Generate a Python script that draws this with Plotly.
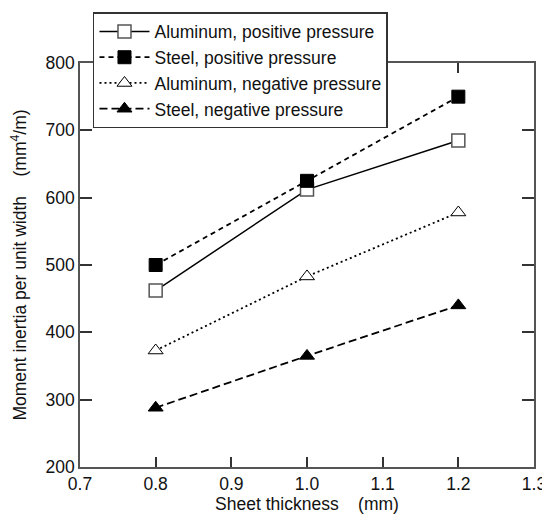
import plotly.graph_objects as go

thickness = [0.8, 1.0, 1.2]
al_pos = [462, 612, 685]
st_pos = [500, 625, 750]
al_neg = [373, 483, 578]
st_neg = [288, 365, 440]

names = ["Aluminum, positive pressure", "Steel, positive pressure",
         "Aluminum, negative pressure", "Steel, negative pressure"]

FONT = "Liberation Sans, Arial, sans-serif"
FS = 17.5

fig = go.Figure()
fig.add_trace(go.Scatter(x=thickness, y=al_pos, name=names[0], mode="lines+markers",
                         line=dict(color="black", width=1.5),
                         marker=dict(symbol="square", size=13, color="white",
                                     line=dict(color="#555", width=1.5))))
fig.add_trace(go.Scatter(x=thickness, y=st_pos, name=names[1], mode="lines+markers",
                         line=dict(color="black", width=1.8, dash="5px,4px"),
                         marker=dict(symbol="square", size=13, color="black",
                                     line=dict(color="black", width=1))))
fig.add_trace(go.Scatter(x=thickness, y=al_neg, name=names[2], mode="lines+markers",
                         line=dict(color="black", width=1.8, dash="2px,3px"),
                         marker=dict(symbol="triangle-up", size=13, color="white",
                                     line=dict(color="black", width=1))))
fig.add_trace(go.Scatter(x=thickness, y=st_neg, name=names[3], mode="lines+markers",
                         line=dict(color="black", width=1.8, dash="8px,4px"),
                         marker=dict(symbol="triangle-up", size=13, color="black",
                                     line=dict(color="black", width=1))))

axis_common = dict(showline=True, linecolor="#555", linewidth=1.5, mirror="ticks",
                   ticks="inside", tickcolor="#333", tickwidth=1.5,
                   showgrid=False, zeroline=False,
                   tickfont=dict(family=FONT, size=FS, color="#111"))

fig.update_xaxes(range=[0.7, 1.3], dtick=0.1, tick0=0.7, tickformat=".1f", ticklen=10,
                 title=dict(text="Sheet thickness    (mm)", standoff=2,
                            font=dict(family=FONT, size=FS, color="#111")),
                 **axis_common)
fig.update_yaxes(range=[200, 800], dtick=100, ticklen=12,
                 title=dict(text="Moment inertia per unit width    (mm<sup>4</sup>/m)", standoff=14,
                            font=dict(family=FONT, size=FS, color="#111")),
                 **axis_common)

# the page body adds an 8px offset; margins compensate so the plot lands where the reference has it
fig.update_layout(
    width=550, height=521,
    margin=dict(l=72, r=24, t=55, b=62, autoexpand=False),
    plot_bgcolor="white", paper_bgcolor="white",
    font=dict(family=FONT, size=FS, color="#111"),
    legend=dict(x=0.0286, y=1.126, xanchor="left", yanchor="top",
                bgcolor="white", bordercolor="#333", borderwidth=1.5,
                font=dict(family=FONT, size=FS, color="#111"),
                itemwidth=50, tracegroupgap=0),
    showlegend=True,
)

fig.write_html("out.html")
